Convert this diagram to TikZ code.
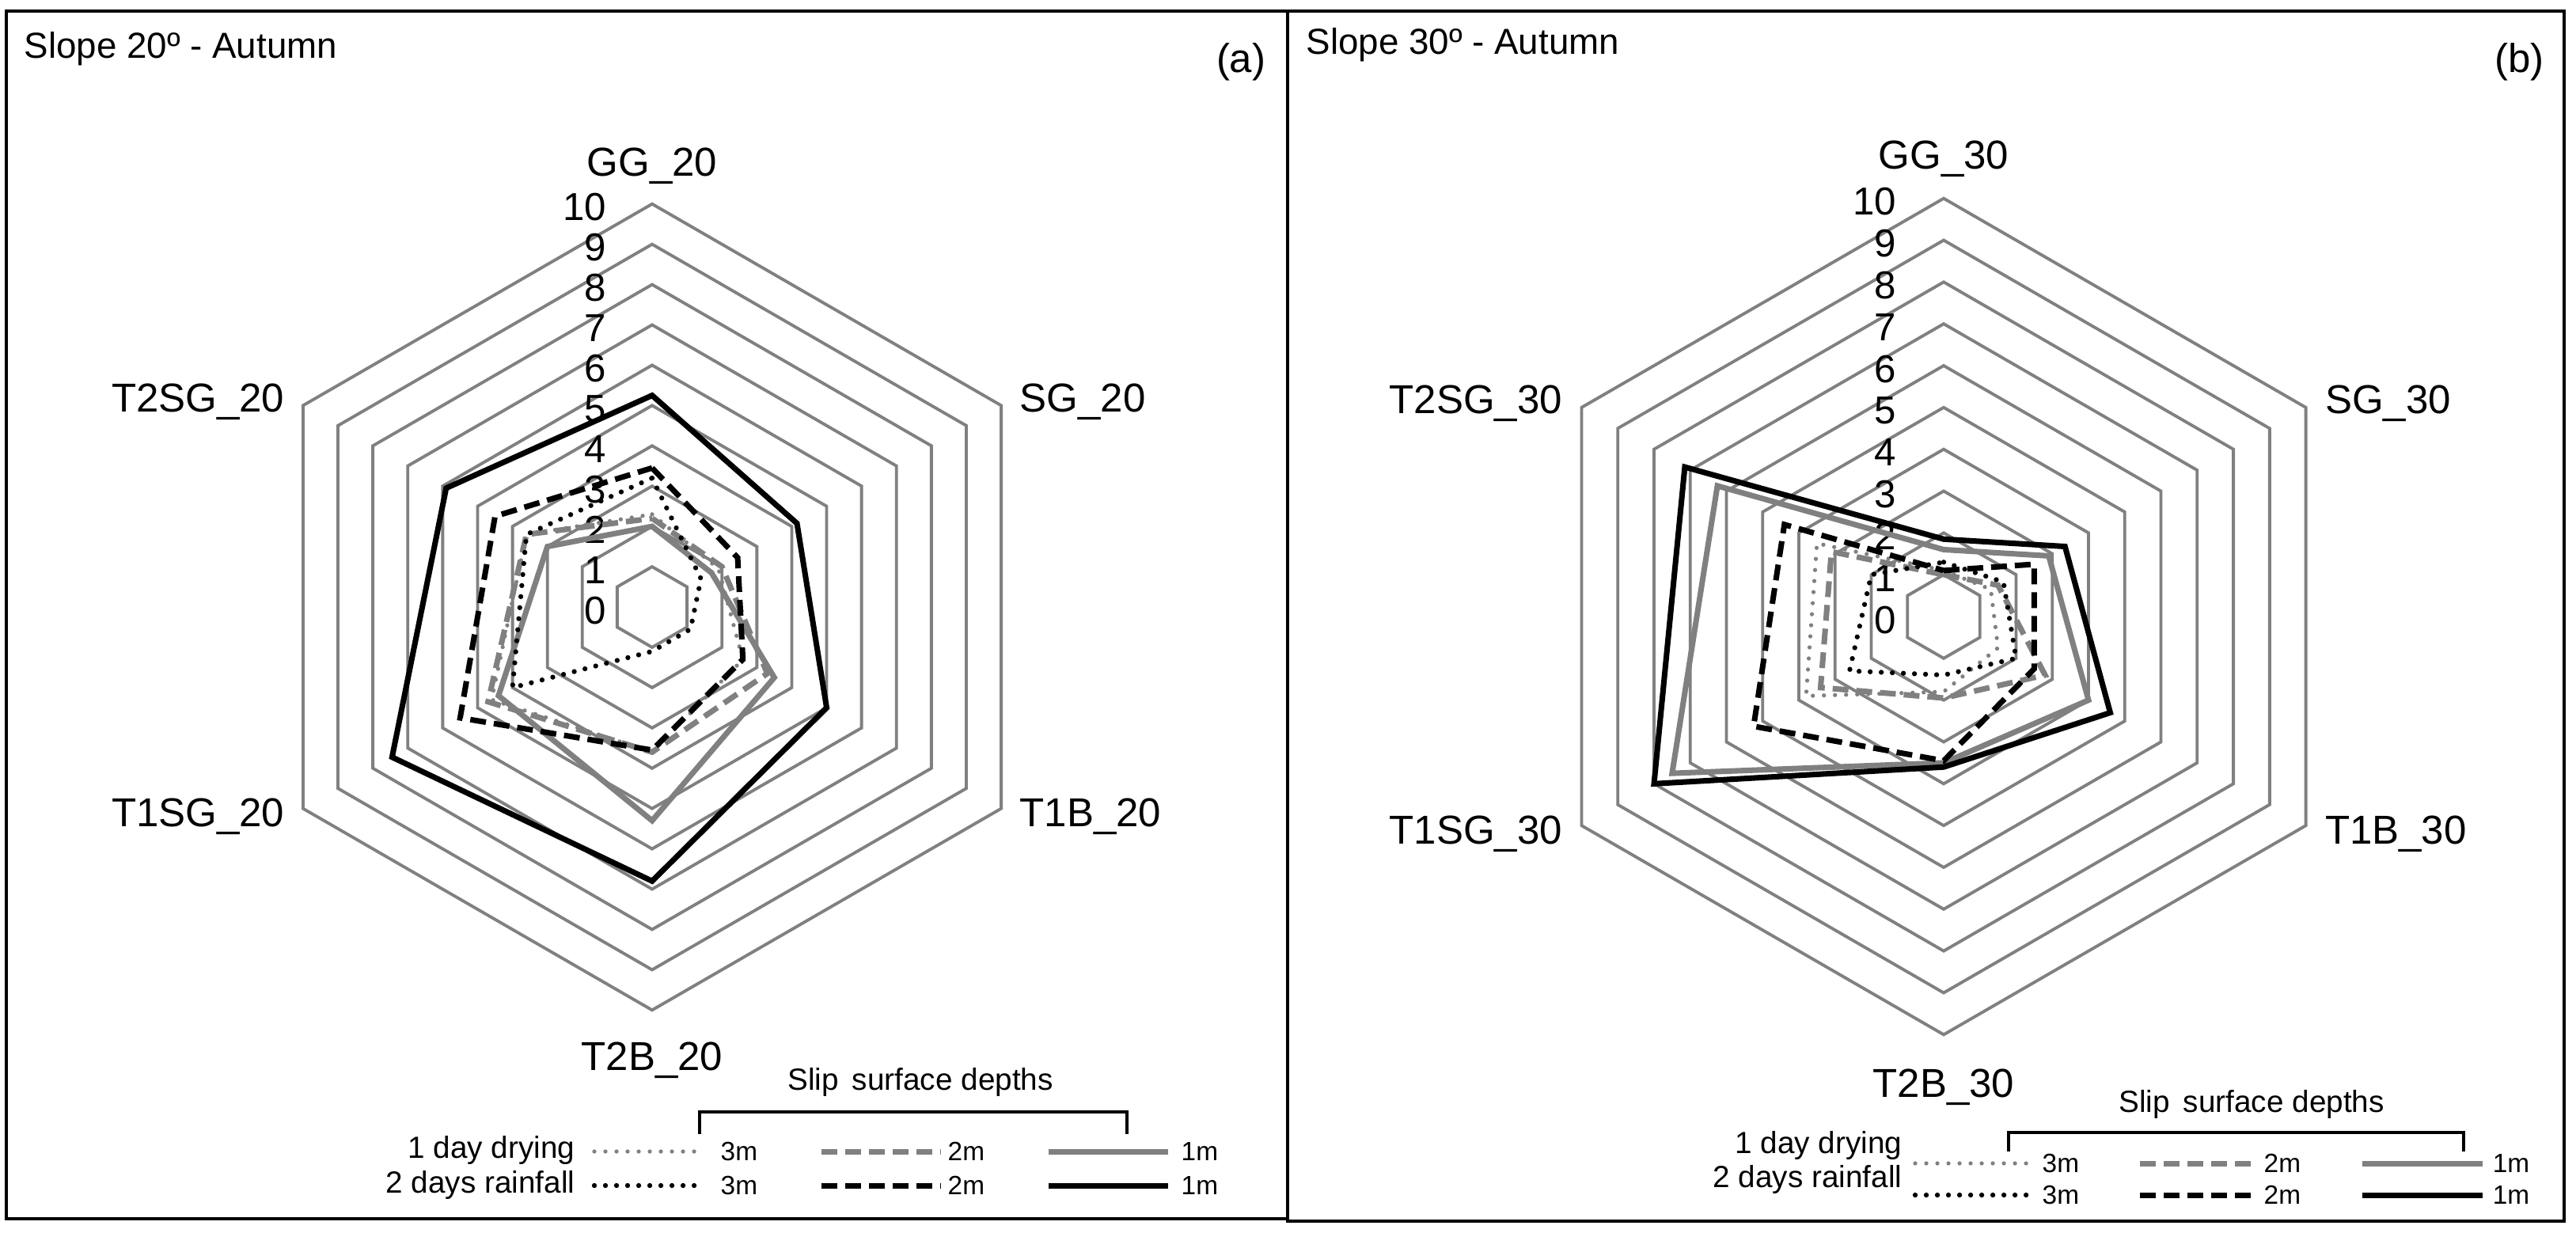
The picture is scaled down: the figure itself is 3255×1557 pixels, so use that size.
\documentclass[tikz,border=0pt]{standalone}
\usepackage{fontspec}
\setmainfont{Liberation Sans}
\usetikzlibrary{calc}

\definecolor{ringgray}{RGB}{128,128,128}
\tikzset{
  ring/.style={draw=ringgray, line width=1.1pt},
  axlabel/.style={inner sep=0pt, font=\fontsize{14.5}{16}\selectfont},
  numlabel/.style={inner sep=0pt, anchor=east, font=\fontsize{14}{16}\selectfont},
  lgtext/.style={inner sep=0pt, font=\fontsize{11}{13}\selectfont},
  lgdepth/.style={inner sep=0pt, anchor=west, font=\fontsize{9.5}{11}\selectfont},
  solidk/.style={draw=black, line width=2pt, line join=miter},
  solidg/.style={draw=ringgray, line width=2pt, line join=miter},
  dashk/.style={solidk, dash pattern=on 0.2cm off 0.1cm},
  dashg/.style={solidg, dash pattern=on 0.2cm off 0.1cm},
  dotk/.style={draw=black, line width=1.8pt, line cap=round, dash pattern=on 0pt off 0.14cm},
  dotg/.style={draw=ringgray, line width=1.5pt, line cap=round, dash pattern=on 0pt off 0.14cm},
}
% one series of the radar: style, then GG, SG, T1B, T2B, T1SG, T2SG
\newcommand{\slipseries}[7]{\draw[#1] (90:#2) -- (30:#3) -- (-30:#4) -- (-90:#5) -- (-150:#6) -- (150:#7) -- cycle;}

\begin{document}
\begin{tikzpicture}[x=0.01cm, y=-0.01cm]
  \useasboundingbox (0,0) rectangle (3255,1557);
  \draw[line width=0.9pt] (8,14) rectangle (1627,1540);
  \draw[line width=0.9pt] (1627,14) rectangle (3240,1543);

  % panel (a)
  \node[lgtext, anchor=west, font=\fontsize{13}{15}\selectfont] (titleA) at (30,62) {Slope 20º - Autumn};
  \node[axlabel, anchor=east] (tagA) at (1600,78) {(a)};
  \begin{scope}[shift={(824,767)}, x=0.509cm, y=0.509cm]
    \foreach \r in {1,...,10}
      \draw[ring] (90:\r) -- (30:\r) -- (-30:\r) -- (-90:\r) -- (-150:\r) -- (150:\r) -- cycle;
    \foreach \v in {0,...,10}
      \node[numlabel] (numA\v) at (-1.12,\v-0.08) {\v};
    \node[axlabel] (ggA) at (0,10.95) {GG\_20};
    \node[axlabel, anchor=west] (sgA) at ($(30:10)+(0.45,0.1)$) {SG\_20};
    \node[axlabel, anchor=west] (tbA) at ($(-30:10)+(0.45,-0.2)$) {T1B\_20};
    \node[axlabel] (tbbA) at (0,-11.25) {T2B\_20};
    \node[axlabel, anchor=east] (tsA) at ($(-150:10)+(-0.45,-0.2)$) {T1SG\_20};
    \node[axlabel, anchor=east] (tssA) at ($(150:10)+(-0.45,0.1)$) {T2SG\_20};
    \slipseries{dotg}{2.3}{1.9}{2.6}{3.6}{4.6}{3.6}
    \slipseries{dashg}{2.2}{2.0}{3.3}{3.6}{4.7}{3.6}
    \slipseries{solidg}{2.0}{1.7}{3.5}{5.3}{4.4}{3.0}
    \slipseries{dotk}{3.2}{1.4}{1.1}{1.1}{4.0}{3.6}
    \slipseries{dashk}{3.45}{2.45}{2.6}{3.55}{5.5}{4.5}
    \slipseries{solidk}{5.25}{4.15}{5.0}{6.8}{7.45}{5.9}
  \end{scope}

  % legend (a)
  \node[lgtext] (slipA) at (1163,1367) {Slip\, surface depths};
  \draw[line width=1.1pt] (884,1433) -- (884,1405) -- (1424,1405) -- (1424,1433);
  \node[lgtext, anchor=east] (dryA) at (727,1453) {1 day drying};
  \node[lgtext, anchor=east] (rainA) at (727,1497) {2 days rainfall};
  \foreach \y/\c in {1455/g, 1498/k} {
    \draw[dot\c] (751,\y) -- (886,\y);
    \draw[dash\c] (1038,\y) -- (1189,\y);
    \draw[solid\c] (1325,\y) -- (1476,\y);
    \node[lgdepth] at (910,\y) {3m};
    \node[lgdepth] at (1197,\y) {2m};
    \node[lgdepth] at (1492,\y) {1m};
  }

  % panel (b)
  \node[lgtext, anchor=west, font=\fontsize{13}{15}\selectfont] (titleB) at (1650,57) {Slope 30º - Autumn};
  \node[axlabel, anchor=east] (tagB) at (3215,78) {(b)};
  \begin{scope}[shift={(2456,779)}, x=0.528cm, y=0.528cm]
    \foreach \r in {1,...,10}
      \draw[ring] (90:\r) -- (30:\r) -- (-30:\r) -- (-90:\r) -- (-150:\r) -- (150:\r) -- cycle;
    \foreach \v in {0,...,10}
      \node[numlabel] (numB\v) at (-1.12,\v-0.08) {\v};
    \node[axlabel] (ggB) at (0,10.95) {GG\_30};
    \node[axlabel, anchor=west] (sgB) at ($(30:10)+(0.45,0.1)$) {SG\_30};
    \node[axlabel, anchor=west] (tbB) at ($(-30:10)+(0.45,-0.2)$) {T1B\_30};
    \node[axlabel] (tbbB) at (0,-11.25) {T2B\_30};
    \node[axlabel, anchor=east] (tsB) at ($(-150:10)+(-0.45,-0.2)$) {T1SG\_30};
    \node[axlabel, anchor=east] (tssB) at ($(150:10)+(-0.45,0.1)$) {T2SG\_30};
    \slipseries{dotg}{1.1}{1.3}{1.5}{1.8}{3.8}{3.5}
    \slipseries{dashg}{1.0}{1.5}{2.8}{1.95}{3.4}{3.1}
    \slipseries{solidg}{1.6}{2.9}{4.0}{3.5}{7.5}{6.25}
    \slipseries{dotk}{1.3}{1.65}{2.0}{1.4}{2.6}{2.0}
    \slipseries{dashk}{1.1}{2.5}{2.5}{3.45}{5.25}{4.4}
    \slipseries{solidk}{1.85}{3.35}{4.6}{3.6}{8.0}{7.15}
  \end{scope}

  % legend (b)
  \node[lgtext] (slipB) at (2845,1395) {Slip\, surface depths};
  \draw[line width=1.1pt] (2538,1455) -- (2538,1431) -- (3113,1431) -- (3113,1455);
  \node[lgtext, anchor=east] (dryB) at (2404,1447) {1 day drying};
  \node[lgtext, anchor=east] (rainB) at (2404,1490) {2 days rainfall};
  \foreach \y/\c in {1470/g, 1510/k} {
    \draw[dot\c] (2420,\y) -- (2564,\y);
    \draw[dash\c] (2704,\y) -- (2852,\y);
    \draw[solid\c] (2985,\y) -- (3137,\y);
    \node[lgdepth] at (2580,\y) {3m};
    \node[lgdepth] at (2860,\y) {2m};
    \node[lgdepth] at (3149,\y) {1m};
  }
\end{tikzpicture}
\end{document}
